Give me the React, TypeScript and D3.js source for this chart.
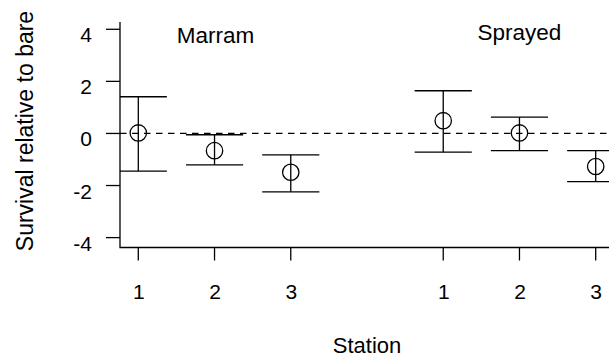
import React from "react";
import * as d3 from "d3";

const groups = ["Marram", "Sprayed"];
const stations = ["1", "2", "3"];
const marramMean = [0.02, -0.66, -1.49];
const marramUpper = [1.41, -0.05, -0.82];
const marramLower = [-1.45, -1.21, -2.24];
const sprayedMean = [0.49, 0.02, -1.27];
const sprayedUpper = [1.64, 0.63, -0.66];
const sprayedLower = [-0.72, -0.66, -1.85];
const yTicks = [-4, -2, 0, 2, 4];

const W = 609;
const H = 358;
const left = 120;
const right = 614;
const top = 22;
const bottom = 247.5;
const FONT = "'Liberation Sans', Arial, Helvetica, sans-serif";

export default function App() {
  const x = d3.scaleLinear().domain([0.76, 7.24]).range([left, right]);
  const y = d3.scaleLinear().domain([-4.38, 4.28]).range([bottom, top]);

  const pts: { pos: number; label: string; m: number; lo: number; hi: number }[] = [];
  const series = [
    { mean: marramMean, up: marramUpper, lo: marramLower },
    { mean: sprayedMean, up: sprayedUpper, lo: sprayedLower },
  ];
  series.forEach((s, gi) => {
    stations.forEach((st, si) => {
      pts.push({ pos: gi * 4 + si + 1, label: st, m: s.mean[si], lo: s.lo[si], hi: s.up[si] });
    });
  });
  const capHalf = 0.375;
  const sw = 1.3;

  return (
    <svg width={W} height={H} style={{ position: "absolute", left: 0, top: 0, background: "#fff" }} fontFamily={FONT}>
      <defs>
        <clipPath id="plotclip">
          <rect x={left} y={top} width={right - left} height={bottom - top} />
        </clipPath>
      </defs>
      {/* dashed reference line */}
      <line x1={left} x2={right} y1={y(0)} y2={y(0)} stroke="#000" strokeWidth={sw} strokeDasharray="6.5,5.5" clipPath="url(#plotclip)" />
      {/* error bars */}
      <g clipPath="url(#plotclip)" stroke="#000" strokeWidth={sw} fill="none">
        {pts.map((p, i) => (
          <g key={i}>
            <line x1={x(p.pos)} x2={x(p.pos)} y1={y(p.hi)} y2={y(p.lo)} />
            <line x1={x(p.pos - capHalf)} x2={x(p.pos + capHalf)} y1={y(p.hi)} y2={y(p.hi)} />
            <line x1={x(p.pos - capHalf)} x2={x(p.pos + capHalf)} y1={y(p.lo)} y2={y(p.lo)} />
            <circle cx={x(p.pos)} cy={y(p.m)} r={8.2} />
          </g>
        ))}
      </g>
      {/* axes */}
      <path d={`M${left},${top} V${bottom} H${W}`} stroke="#000" strokeWidth={sw} fill="none" />
      {yTicks.map((t) => (
        <g key={t}>
          <line x1={left - 14} x2={left} y1={y(t)} y2={y(t)} stroke="#000" strokeWidth={sw} />
          <text x={92} y={y(t) + 13} textAnchor="end" fontSize={21}>{t}</text>
        </g>
      ))}
      {pts.map((p, i) => (
        <g key={"xt" + i}>
          <line x1={x(p.pos)} x2={x(p.pos)} y1={bottom} y2={bottom + 13} stroke="#000" strokeWidth={sw} />
          <text x={x(p.pos) + 0.5} y={298.5} textAnchor="middle" fontSize={21}>{p.label}</text>
        </g>
      ))}
      {/* group labels */}
      <text x={x(2) + 1} y={42.5} textAnchor="middle" fontSize={22.5}>{groups[0]}</text>
      <text x={x(6)} y={39.5} textAnchor="middle" fontSize={22.5}>{groups[1]}</text>
      {/* axis titles */}
      <text x={(left + right) / 2} y={353} textAnchor="middle" fontSize={22}>Station</text>
      <text transform={`translate(33,131) rotate(-90)`} textAnchor="middle" fontSize={23}>Survival relative to bare</text>
    </svg>
  );
}
